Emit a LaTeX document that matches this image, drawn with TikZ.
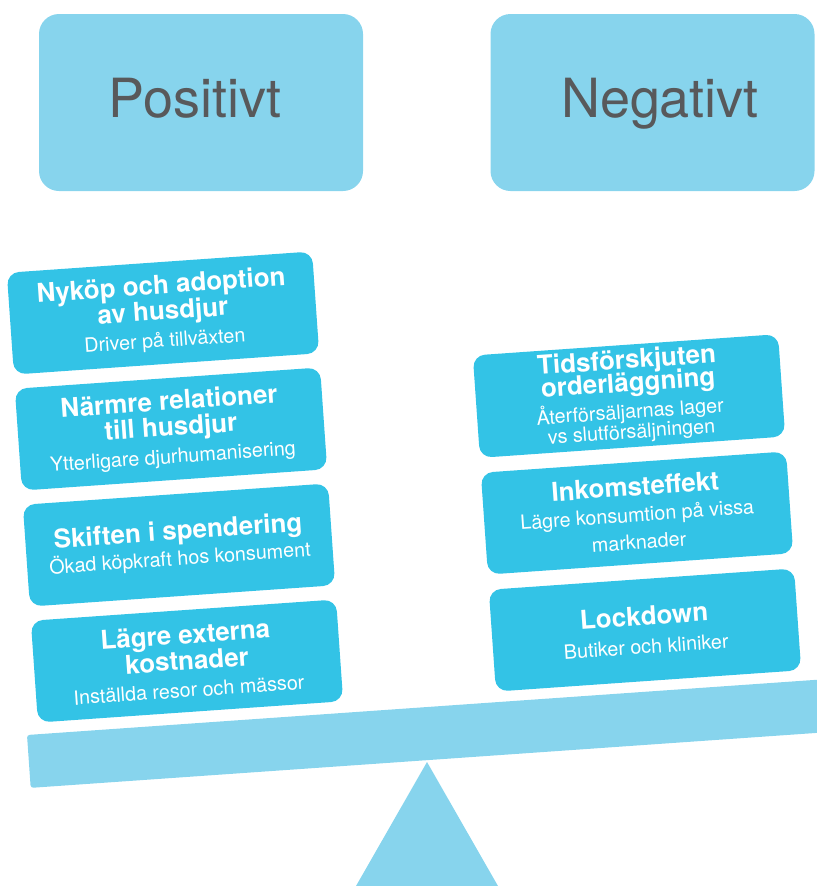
\documentclass[tikz,border=0pt]{standalone}
\usepackage{fontspec}
\setmainfont{TeX Gyre Heros}
\definecolor{cardblue}{HTML}{33C3E6}
\definecolor{lightblue}{HTML}{87D4ED}
\definecolor{headgray}{HTML}{58595B}
\newcommand{\hd}{\bfseries\fontsize{19.5}{19.5}\selectfont}
\begin{document}
\begin{tikzpicture}[x=0.75pt, y=-0.75pt,
    header/.style={rectangle, rounded corners=15pt, fill=lightblue, minimum width=243pt, minimum height=132.75pt},
    headtext/.style={anchor=base, text=headgray, font=\fontsize{40.5}{40.5}\selectfont},
    card/.style={rectangle, rounded corners=9pt, fill=cardblue, minimum width=229.5pt, minimum height=76.5pt, align=center, text=white, rotate=4, font=\fontsize{14.8}{19.5}\selectfont},
    support/.style={fill=lightblue}
]
    \useasboundingbox (0,0) rectangle (817,886);
    \clip (0,0) rectangle (817,886);

    % Headers
    \node[header] (pos) at (201,102.5) {};
    \node[headtext] (postext) at (195,117) {Positivt};
    \node[header] (neg) at (652.5,102.5) {};
    \node[headtext] (negtext) at (660,117) {Negativt};

    % Left side: positive factors
    \node[card] (pos1) at (163,313) {{\hd Nyköp och adoption}\\{\hd av husdjur}\\[1pt]Driver på tillväxten};
    \node[card] (pos2) at (171,429) {{\hd Närmre relationer}\\{\hd till husdjur}\\[1pt]Ytterligare djurhumanisering};
    \node[card] (pos3) at (179,545) {{\hd Skiften i spendering}\\[-0.5pt]Ökad köpkraft hos konsument};
    \node[card] (pos4) at (187,661) {{\hd Lägre externa}\\{\hd kostnader}\\[1pt]Inställda resor och mässor};

    % Right side: negative factors
    \node[card] (neg1) at (629,396) {{\hd Tidsförskjuten}\\[-2.25pt]{\hd orderläggning}\\[0.75pt]Återförsäljarnas lager\\[-4.5pt]vs slutförsäljningen};
    \node[card] (neg2) at (637,513) {{\hd Inkomsteffekt}\\Lägre konsumtion på vissa\\[1pt]marknader};
    \node[card] (neg3) at (645,630) {{\hd Lockdown}\\[2pt]Butiker och kliniker};

    % Scale: beam and fulcrum
    \fill[support, rounded corners=2pt, rotate around={4:(27,735)}] (27,735) rectangle (850,788);
    \fill[support] (427,762) -- (348,900) -- (506,900) -- cycle;
\end{tikzpicture}
\end{document}
